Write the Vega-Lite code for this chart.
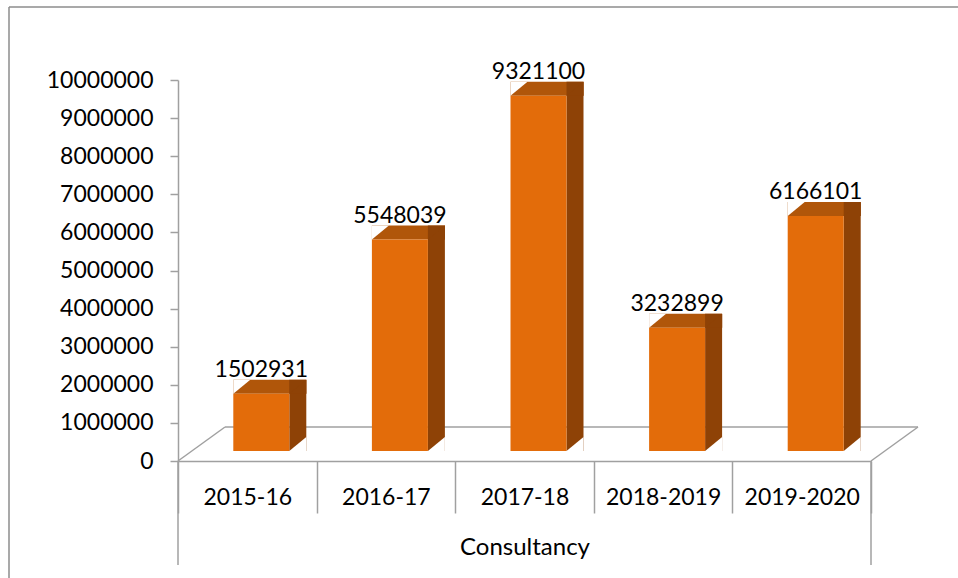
{
  "$schema": "https://vega.github.io/schema/vega-lite/v6.json",
  "width": 693,
  "height": 381,
  "autosize": {"type": "none"},
  "padding": {"left": 178, "top": 80, "right": 87, "bottom": 117},
  "background": "white",
  "config": {
    "view": {"stroke": null},
    "font": "Lato",
    "axis": {"labelOverlap": false, "labelFont": "Lato", "labelColor": "#000000", "titleFont": "Lato", "titleColor": "#000000", "titleFontWeight": "normal", "grid": false},
    "axisX": {"labelFontSize": 23, "labelAngle": 0, "labelAlign": "center", "labelBaseline": "top", "labelPadding": -27, "tickBand": "extent", "tickSize": 52, "tickColor": "#a0a0a0", "tickWidth": 1.5, "domainColor": "#a0a0a0", "domainWidth": 1.5, "titleFontSize": 24, "titlePadding": 22},
    "axisY": {"labelFontSize": 23, "labelPadding": 17, "tickSize": 8, "tickCount": 10, "tickColor": "#a0a0a0", "tickWidth": 1.5, "domainColor": "#a0a0a0", "domainWidth": 1.5}
  },
  "datasets": {
    "bars": [
      {"period": "2015-16", "value": 1502931},
      {"period": "2016-17", "value": 5548039},
      {"period": "2017-18", "value": 9321100},
      {"period": "2018-2019", "value": 3232899},
      {"period": "2019-2020", "value": 6166101}
    ],
    "one": [{}]
  },
  "layer": [
    {
      "data": {"name": "one"},
      "layer": [
        {
          "mark": {"type": "rule", "color": "#8c8c8c", "strokeWidth": 1.5, "xOffset": -238.3, "x2Offset": 200, "yOffset": -73},
          "encoding": {
            "x": {
              "datum": "2015-16", "type": "nominal",
              "scale": {"domain": ["2015-16", "2016-17", "2017-18", "2018-2019", "2019-2020"], "paddingInner": 0, "paddingOuter": 0},
              "axis": {"title": "Consultancy", "labelAlign": "center", "labelPadding": -27, "tickBand": "extent", "tickSize": 52}
            },
            "x2": {"datum": "2019-2020"},
            "y": {
              "datum": 10000000, "type": "quantitative",
              "scale": {"domain": [0, 10000000], "nice": false},
              "axis": {"title": null, "format": "d", "tickCount": 10, "labelOverlap": false}
            }
          }
        },
        {
          "mark": {"type": "rule", "color": "#8c8c8c", "strokeWidth": 1.5, "xOffset": -238.3, "yOffset": -73, "y2Offset": 130},
          "encoding": {
            "x": {"datum": "2015-16", "type": "nominal", "title": "Consultancy"},
            "y": {"datum": 10000000, "type": "quantitative", "title": null},
            "y2": {"datum": 0}
          }
        },
        {
          "mark": {"type": "rule", "color": "#a0a0a0", "strokeWidth": 1.5, "xOffset": -22.3, "x2Offset": 116.3, "yOffset": -34},
          "encoding": {
            "x": {"datum": "2015-16", "type": "nominal", "title": "Consultancy"},
            "x2": {"datum": "2019-2020"},
            "y": {"datum": 0, "type": "quantitative", "title": null}
          }
        },
        {
          "mark": {"type": "rule", "color": "#a0a0a0", "strokeWidth": 1.5, "xOffset": -69.3, "x2Offset": -22.3, "y2Offset": -34},
          "encoding": {
            "x": {"datum": "2015-16", "type": "nominal", "title": "Consultancy"},
            "x2": {"datum": "2015-16"},
            "y": {"datum": 0, "type": "quantitative", "title": null},
            "y2": {"datum": 0}
          }
        },
        {
          "mark": {"type": "rule", "color": "#a0a0a0", "strokeWidth": 1.5, "xOffset": 69.3, "x2Offset": 116.3, "y2Offset": -34},
          "encoding": {
            "x": {"datum": "2019-2020", "type": "nominal", "title": "Consultancy"},
            "x2": {"datum": "2019-2020"},
            "y": {"datum": 0, "type": "quantitative", "title": null},
            "y2": {"datum": 0}
          }
        },
        {
          "mark": {"type": "rule", "color": "#a0a0a0", "strokeWidth": 1.5, "xOffset": -69.3, "y2Offset": 104},
          "encoding": {
            "x": {"datum": "2015-16", "type": "nominal", "title": "Consultancy"},
            "y": {"datum": 0, "type": "quantitative", "title": null},
            "y2": {"datum": 0}
          }
        },
        {
          "mark": {"type": "rule", "color": "#a0a0a0", "strokeWidth": 1.5, "xOffset": 69.3, "y2Offset": 104},
          "encoding": {
            "x": {"datum": "2019-2020", "type": "nominal", "title": "Consultancy"},
            "y": {"datum": 0, "type": "quantitative", "title": null},
            "y2": {"datum": 0}
          }
        }
      ]
    },
    {
      "data": {"name": "bars"},
      "layer": [
        {
          "mark": {"type": "bar", "color": "#B0560A", "width": 73, "xOffset": 22.5, "yOffset": -24, "y2Offset": -10},
          "encoding": {
            "x": {"field": "period", "type": "nominal", "sort": null, "title": "Consultancy"},
            "y": {"field": "value", "type": "quantitative", "title": null},
            "y2": {"field": "value"}
          }
        },
        {
          "mark": {"type": "bar", "color": "#8E4206", "width": 17, "xOffset": 50.5, "yOffset": -24, "y2Offset": -10},
          "encoding": {
            "x": {"field": "period", "type": "nominal", "sort": null, "title": "Consultancy"},
            "y": {"field": "value", "type": "quantitative", "title": null},
            "y2": {"datum": 0}
          }
        },
        {
          "mark": {"type": "bar", "color": "#E36C0A", "width": 56, "xOffset": 14, "yOffset": -10, "y2Offset": -10},
          "encoding": {
            "x": {"field": "period", "type": "nominal", "sort": null, "title": "Consultancy"},
            "y": {"field": "value", "type": "quantitative", "title": null},
            "y2": {"datum": 0}
          }
        },
        {
          "mark": {"type": "point", "filled": true, "opacity": 1, "color": "#8E4206", "size": 289, "strokeWidth": 0, "shape": "M-1,0.8235L1,0.8235L1,-0.8235Z", "xOffset": 50.5, "yOffset": -17},
          "encoding": {
            "x": {"field": "period", "type": "nominal", "sort": null, "title": "Consultancy"},
            "y": {"field": "value", "type": "quantitative", "title": null}
          }
        },
        {
          "mark": {"type": "point", "filled": true, "opacity": 1, "color": "#ffffff", "size": 289, "strokeWidth": 0, "shape": "M-1,0.8235L-1,-0.8235L1,-0.8235Z", "xOffset": -5.5, "yOffset": -17},
          "encoding": {
            "x": {"field": "period", "type": "nominal", "sort": null, "title": "Consultancy"},
            "y": {"field": "value", "type": "quantitative", "title": null}
          }
        },
        {
          "mark": {"type": "point", "filled": true, "opacity": 1, "color": "#ffffff", "size": 289, "strokeWidth": 0, "shape": "M-1,0.8235L1,0.8235L1,-0.8235Z", "xOffset": 50.5, "yOffset": -17},
          "encoding": {
            "x": {"field": "period", "type": "nominal", "sort": null, "title": "Consultancy"},
            "y": {"datum": 0, "type": "quantitative", "title": null}
          }
        },
        {
          "mark": {"type": "text", "font": "Lato", "fontSize": 23, "color": "#000000", "align": "center", "baseline": "alphabetic", "xOffset": 14, "yOffset": -27},
          "encoding": {
            "x": {"field": "period", "type": "nominal", "sort": null, "title": "Consultancy"},
            "y": {"field": "value", "type": "quantitative", "title": null},
            "text": {"field": "value", "type": "quantitative", "format": "d"}
          }
        }
      ]
    }
  ]
}
